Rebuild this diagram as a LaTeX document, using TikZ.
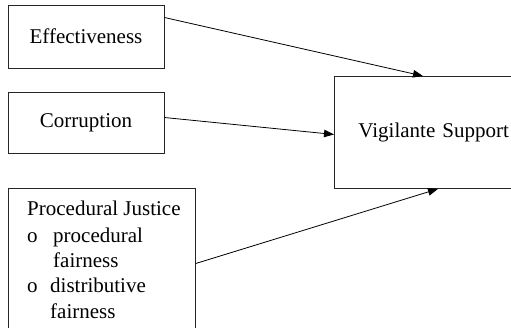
\documentclass[tikz,border=0pt]{standalone}
\usepackage{fontspec}
\setmainfont{Liberation Serif}
\usetikzlibrary{arrows.meta}
\begin{document}
\begin{tikzpicture}[x=1pt,y=-1pt,
  box/.style={draw=black!85, line width=0.9pt, rectangle, inner sep=0pt, font=\fontsize{21}{25}\selectfont},
  txt/.style={inner sep=0pt, anchor=base west, font=\fontsize{21}{25}\selectfont},
  conn/.style={draw=black, line width=0.8pt, -{Triangle[length=10pt,width=7.5pt]}}]
\useasboundingbox (0,0) rectangle (511,327);
\clip (0,0) rectangle (511,327);
\node[box, minimum width=156pt, minimum height=63pt] (eff) at (86,36.5) {Effectiveness};
\node[box, minimum width=156pt, minimum height=61pt] (cor) at (86,122.5) {Corruption};
\node[box, anchor=north west, minimum width=200pt, minimum height=112pt, text width=176pt, inner xsep=24pt, align=left] (vs) at (334,76) {Vigilante Support};
\node[box, anchor=north west, minimum width=187pt, minimum height=150pt] (pj) at (8,188) {};
\node[txt] (t1) at (27,215) {Procedural Justice};
\node[txt] (b1) at (27,242) {o};
\node[txt] (t2) at (53,242) {procedural};
\node[txt] (t3) at (53,267) {fairness};
\node[txt] (b2) at (27,292) {o};
\node[txt] (t4) at (50,292) {distributive};
\node[txt] (t5) at (50,318) {fairness};
\draw[conn] ([yshift=19pt]eff.east) -- ([xshift=89pt]vs.north west);
\draw[conn] ([yshift=5pt]cor.east) -- ([yshift=-2pt]vs.west);
\draw[conn] (pj.east) -- ([xshift=104pt]vs.south west);
\end{tikzpicture}
\end{document}
